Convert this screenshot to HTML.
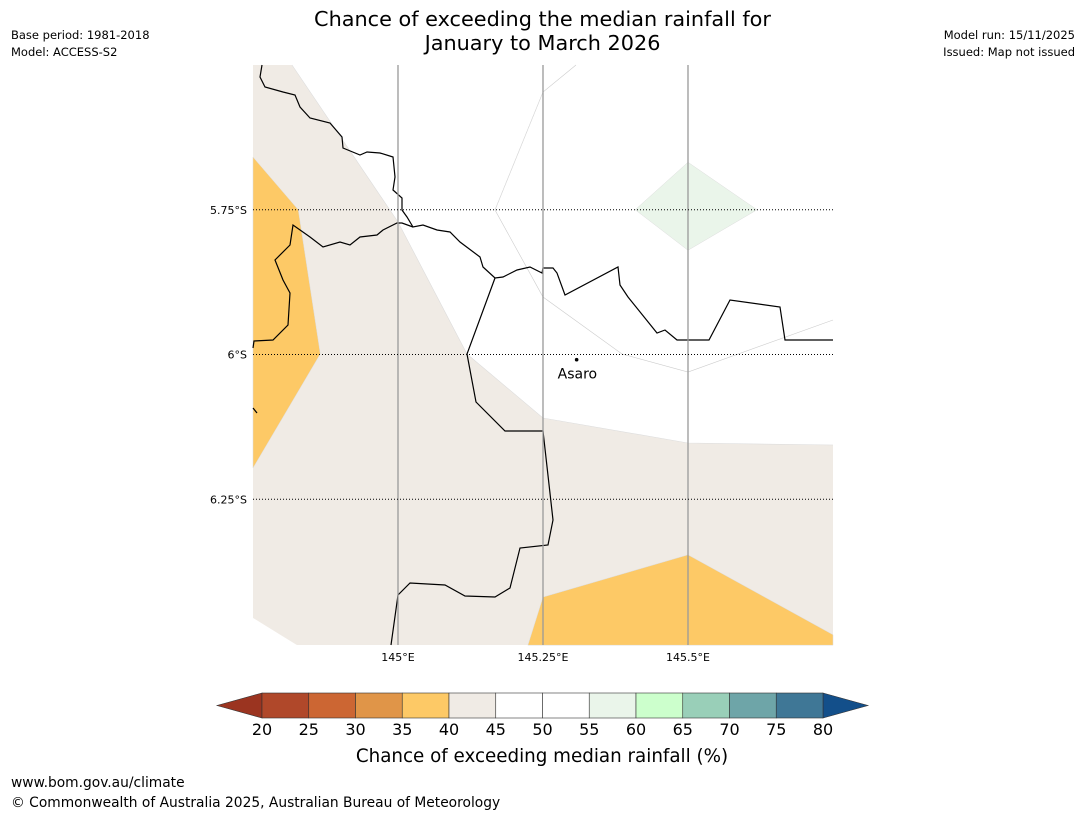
<!DOCTYPE html>
<html><head><meta charset="utf-8"><style>
body{margin:0;width:1085px;height:816px;background:#fff;font-family:"Liberation Sans","DejaVu Sans",sans-serif;overflow:hidden;position:relative}
.t{position:absolute;color:#000;white-space:nowrap}
</style></head><body>
<div class="t" style="left:0;width:1085px;top:7px;text-align:center;font-size:20.8px;line-height:24px;font-family:'DejaVu Sans',sans-serif">Chance of exceeding the median rainfall for<br>January to March 2026</div>
<div class="t" style="left:11px;top:27px;font-size:11.5px;font-family:'DejaVu Sans',sans-serif;line-height:17px">Base period: 1981-2018<br>Model: ACCESS-S2</div>
<div class="t" style="right:10px;top:27px;font-size:11.5px;text-align:right;font-family:'DejaVu Sans',sans-serif;line-height:17px">Model run: 15/11/2025<br>Issued: Map not issued</div>
<div class="t" style="left:11px;top:775px;font-size:13.8px;font-family:'DejaVu Sans',sans-serif">www.bom.gov.au/climate</div>
<div class="t" style="left:11px;top:795px;font-size:13.8px;font-family:'DejaVu Sans',sans-serif">© Commonwealth of Australia 2025, Australian Bureau of Meteorology</div>
<svg id="svg" width="1085" height="816" style="position:absolute;left:0;top:0"></svg>
<script>
const lonTicks=[145,145.25,145.5];
const lonLabels=["145°E","145.25°E","145.5°E"];
const latTicks=[5.75,6,6.25];
const latLabels=["5.75°S","6°S","6.25°S"];
const whiteRegion=[[144.817,5.5],[145.75,5.5],[145.75,6.156],[145.5,6.153],[145.25,6.11],[145.119,5.999],[145.0,5.771]];
const whiteCorner=[[144.75,6.455],[144.75,6.502],[144.826,6.502]];
const orangeWest=[[144.75,5.659],[144.828,5.75],[144.866,5.999],[144.75,6.196]];
const orangeSouth=[[145.25,6.419],[145.5,6.346],[145.75,6.484],[145.75,6.502],[145.224,6.502]];
const greenDiamond=[[145.409,5.75],[145.5,5.668],[145.619,5.75],[145.5,5.82]];
const town=[145.308,6.009];
const cbValues=[20,25,30,35,40,45,50,55,60,65,70,75,80];
const cbColors=["#b0482a","#cc6633","#e09548","#fdc966","#f0ebe5","#ffffff","#ffffff","#eaf5ea","#ccffcc","#99cfb8","#6ea5a8","#3f7796"];
const X=l=>253+(l-144.75)*580, Y=l=>65+(l-5.5)*579;
const svg=document.getElementById('svg');const NS='http://www.w3.org/2000/svg';
function mk(t,a,p){const e=document.createElementNS(NS,t);for(const k in a)e.setAttribute(k,a[k]);(p||svg).appendChild(e);return e;}
const pts=a=>a.map(p=>X(p[0])+','+Y(p[1])).join(' ');
let e=mk('rect',{x:253,y:65,width:580,height:580,fill:'#f0ebe5'});


[[whiteRegion,'#ffffff','region-45-55','none'],[whiteCorner,'#ffffff','region-white-corner','none'],[orangeWest,'#fdc966','region-west-35-40','#ddd'],[orangeSouth,'#fdc966','region-south-35-40','#ddd'],[greenDiamond,'#eaf5ea','region-55-60','#ddd']].forEach(r=>{
 const p=mk('polygon',{points:pts(r[0]),fill:r[1],stroke:r[3],'stroke-width':0.5});
 
 
});
mk('polyline',{points:'292,65 398,222 467,354 543,418 688,443 833,445',fill:'none',stroke:'#ddd','stroke-width':0.6});
mk('polyline',{points:'576,65 543,92 495,210 543,297 622,354 688,372 833,320',fill:'none',stroke:'#ccc','stroke-width':0.6});
mk('polyline',{points:'495,210 543,92',fill:'none',stroke:'#ddd','stroke-width':0.5});
const cl=mk('polyline',{points:'262,65 260,77 265,87 283,92 295,95 300,107 310,118 330,123 342,137 343,148 360,155 367,152 380,153 393,157 395,177 393,190 402,198 402,210 407,217 413,227 423,225 437,230 450,232 460,242 480,257 483,267 495,278 503,277 517,270 530,267 542,273 543,268 553,268 557,273 565,295 618,267 620,285 628,297 657,333 665,330 677,340 709,340 730,300 780,307 785,340 833,340',fill:'none',stroke:'#000','stroke-width':1.2});


const cl2=mk('polyline',{points:'413,227 402,223 397,223 383,230 377,235 360,237 350,245 340,242 323,247 310,237 293,225 290,245 275,260 283,280 290,293 288,325 273,340 254,341 253,348',fill:'none',stroke:'#000','stroke-width':1.2});


const bd=mk('polyline',{points:'495,278 467,354 476,402 505,431 543,431 553,520 548,545 520,548 510,588 495,597 465,596 445,585 410,583 398,595 391,645',fill:'none',stroke:'#000','stroke-width':1.2});


mk('polyline',{points:'253,408 257,413',fill:'none',stroke:'#000','stroke-width':1.2});
lonTicks.forEach((v,i)=>{
 const l=mk('line',{x1:X(v),x2:X(v),y1:65,y2:645,stroke:'#999','stroke-width':1.3});
 
 
 const t=mk('text',{x:X(v),y:661,'text-anchor':'middle','font-size':11,'font-family':'DejaVu Sans,sans-serif'});t.textContent=lonLabels[i];
 
 
});
latTicks.forEach((v,i)=>{
 const l=mk('line',{x1:253,x2:833,y1:Y(v),y2:Y(v),stroke:'#000','stroke-width':1,'stroke-dasharray':'1,2'});
 
 
 const t=mk('text',{x:247,y:Y(v)+4,'text-anchor':'end','font-size':11,'font-family':'DejaVu Sans,sans-serif'});t.textContent=latLabels[i];
 
 
});
const dot=mk('circle',{cx:X(town[0]),cy:Y(town[1]),r:1.8,fill:'#000'});


const tl=mk('text',{x:X(town[0])-19,y:Y(town[1])+19,'font-size':14,'font-family':'DejaVu Sans,sans-serif'});tl.textContent='Asaro';


const cx0=262,cx1=823,cy0=693,cy1=718,sw=(cx1-cx0)/cbColors.length;
const lt=mk('polygon',{points:`${cx0},${cy0} 217,705.5 ${cx0},${cy1}`,fill:'#9b3420',stroke:'#333','stroke-width':0.6});


const rt=mk('polygon',{points:`${cx1},${cy0} 868,705.5 ${cx1},${cy1}`,fill:'#134f8a',stroke:'#333','stroke-width':0.6});


cbColors.forEach((c,i)=>{
 const r=mk('rect',{x:cx0+i*sw,y:cy0,width:sw,height:cy1-cy0,fill:c,stroke:'#333','stroke-width':0.6});
 
 
});
cbValues.forEach((v,i)=>{
 const t=mk('text',{x:cx0+i*sw,y:735,'text-anchor':'middle','font-size':16,'font-family':'DejaVu Sans,sans-serif'});t.textContent=v;
 
 
});
const ct=mk('text',{x:542,y:762,'text-anchor':'middle','font-size':18.3,'font-family':'DejaVu Sans,sans-serif'});ct.textContent='Chance of exceeding median rainfall (%)';


</script>
</body></html>
